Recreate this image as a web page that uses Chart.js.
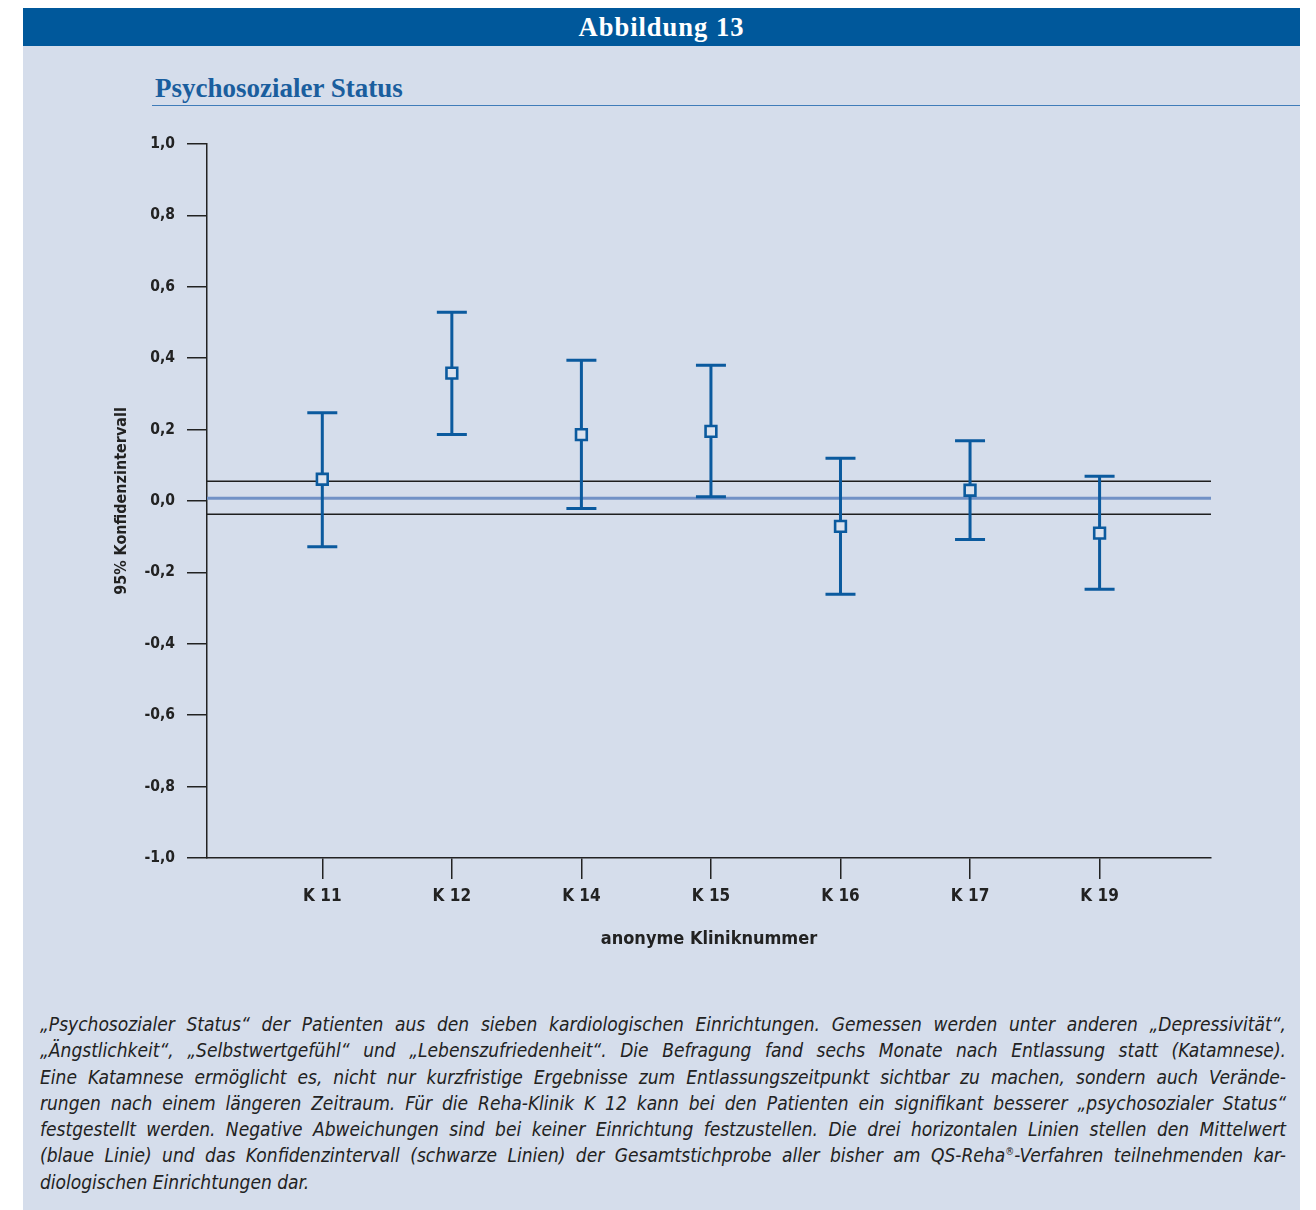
<!DOCTYPE html>
<html lang="de">
<head>
<meta charset="utf-8">
<title>Abbildung 13 - Psychosozialer Status</title>
<script src="https://cdn.jsdelivr.net/npm/chart.js@4/dist/chart.umd.min.js"></script>
<style>
  html, body { margin: 0; padding: 0; background: #fff; }
  body { width: 1316px; height: 1210px; position: relative; overflow: hidden; }
  #panel { position: absolute; left: 23px; top: 46px; width: 1277px; height: 1164px; background: #d5ddeb; }
  #header { position: absolute; left: 23px; top: 8px; width: 1277px; height: 38px; background: #00589b;
    color: #fff; font: bold 26.5px "Liberation Serif", serif; letter-spacing: 1px; text-align: center; line-height: 38px; }
  #title { position: absolute; left: 155px; top: 73px; color: #1a5e9e; font: bold 27px "Liberation Serif", serif; }
  #rule { position: absolute; left: 152px; top: 105px; width: 1148px; height: 0; border-top: 1.5px solid #3f7cb9; }
  #wrap { position: absolute; left: 100px; top: 120px; width: 1150px; height: 840px; }
  #caption { position: absolute; left: 40px; top: 1011px; width: 1246px; color: #222;
    font: italic 19px "DejaVu Sans Condensed", "Liberation Sans Narrow", sans-serif; line-height: 26.3px; }
  #caption div { text-align: justify; text-align-last: justify; white-space: nowrap; height: 26.3px; }
  #caption div.last { text-align-last: left; }
  #caption sup { font-size: 10px; line-height: 0; vertical-align: 7px; }
</style>
</head>
<body>
<div id="panel"></div>
<div id="header">Abbildung 13</div>
<div id="title">Psychosozialer Status</div>
<div id="rule"></div>
<div id="wrap"><canvas id="myChart" width="1150" height="840"></canvas></div>
<div id="caption">
  <div>„Psychosozialer Status“ der Patienten aus den sieben kardiologischen Einrichtungen. Gemessen werden unter anderen „Depressivität“,</div>
  <div>„Ängstlichkeit“, „Selbstwertgefühl“ und „Lebenszufriedenheit“. Die Befragung fand sechs Monate nach Entlassung statt (Katamnese).</div>
  <div>Eine Katamnese ermöglicht es, nicht nur kurzfristige Ergebnisse zum Entlassungszeitpunkt sichtbar zu machen, sondern auch Verände-</div>
  <div>rungen nach einem längeren Zeitraum. Für die Reha-Klinik K 12 kann bei den Patienten ein signifikant besserer „psychosozialer Status“</div>
  <div>festgestellt werden. Negative Abweichungen sind bei keiner Einrichtung festzustellen. Die drei horizontalen Linien stellen den Mittelwert</div>
  <div>(blaue Linie) und das Konfidenzintervall (schwarze Linien) der Gesamtstichprobe aller bisher am QS-Reha<sup>®</sup>-Verfahren teilnehmenden kar-</div>
  <div class="last">diologischen Einrichtungen dar.</div>
</div>
<script>
// Kliniken und 95%-Konfidenzintervalle
var categories = ['K 11', 'K 12', 'K 14', 'K 15', 'K 16', 'K 17', 'K 19'];
var means = [0.061, 0.358, 0.186, 0.195, -0.071, 0.030, -0.090];
var upper = [0.247, 0.529, 0.394, 0.380, 0.120, 0.169, 0.069];
var lower = [-0.128, 0.186, -0.021, 0.012, -0.261, -0.108, -0.247];

// Gesamtstichprobe: Mittelwert und Konfidenzintervall
var totalMean = 0.008;
var totalUpper = 0.055;
var totalLower = -0.037;

var yTickValues = [-1, -0.8, -0.6, -0.4, -0.2, 0, 0.2, 0.4, 0.6, 0.8, 1];
var yTickLabels = ['-1,0', '-0,8', '-0,6', '-0,4', '-0,2', '0,0', '0,2', '0,4', '0,6', '0,8', '1,0'];

var X_MIN = 0.11, X_MAX = 7.86;
var BLUE = '#0b5a9e';
var AXIS = '#222';
var FONT = '"DejaVu Sans Condensed", "Liberation Sans Narrow", sans-serif';

function flatLine(y) {
    return [{ x: X_MIN, y: y }, { x: X_MAX, y: y }];
}

// whiskers + caps, drawn just before the mean markers
var errorBars = {
    id: 'errorBars',
    beforeDatasetDraw: function (chart, args) {
        if (args.index !== 0) return;
        var xs = chart.scales.x, ys = chart.scales.y, ctx = chart.ctx;
        ctx.save();
        ctx.strokeStyle = BLUE;
        ctx.lineWidth = 3;
        for (var i = 0; i < categories.length; i++) {
            var px = xs.getPixelForValue(i + 1);
            var top = ys.getPixelForValue(upper[i]);
            var bot = ys.getPixelForValue(lower[i]);
            ctx.beginPath();
            ctx.moveTo(px, top); ctx.lineTo(px, bot);
            ctx.moveTo(px - 15, top); ctx.lineTo(px + 15, top);
            ctx.moveTo(px - 15, bot); ctx.lineTo(px + 15, bot);
            ctx.stroke();
        }
        ctx.restore();
    }
};

var ctx = document.getElementById('myChart').getContext('2d');
var myChart = new Chart(ctx, {
    type: 'scatter',
    data: {
        datasets: [{
            label: 'Mittelwert',
            data: means.map(function (m, i) { return { x: i + 1, y: m }; }),
            pointStyle: 'rect',
            pointRadius: 7.6,
            pointHoverRadius: 7.6,
            backgroundColor: '#dbe2ee',
            borderColor: BLUE,
            borderWidth: 2.6,
            order: 0
        }, {
            type: 'line',
            label: 'Gesamt Mittelwert',
            data: flatLine(totalMean),
            borderColor: '#7191c6',
            borderWidth: 3,
            pointRadius: 0,
            order: 1
        }, {
            type: 'line',
            label: 'KI oben',
            data: flatLine(totalUpper),
            borderColor: '#1e1e1e',
            borderWidth: 1.5,
            pointRadius: 0,
            order: 2
        }, {
            type: 'line',
            label: 'KI unten',
            data: flatLine(totalLower),
            borderColor: '#1e1e1e',
            borderWidth: 1.5,
            pointRadius: 0,
            order: 3
        }]
    },
    options: {
        responsive: false,
        animation: false,
        layout: { padding: { top: 24, right: 39, left: 0, bottom: 0 } },
        plugins: { legend: { display: false }, tooltip: { enabled: false } },
        scales: {
            x: {
                type: 'linear',
                min: X_MIN,
                max: X_MAX,
                afterBuildTicks: function (scale) {
                    scale.ticks = categories.map(function (c, i) { return { value: i + 1 }; });
                },
                afterFit: function (scale) { scale.height = 102; },
                grid: { drawOnChartArea: false, drawTicks: true, tickLength: 21, color: AXIS, lineWidth: 1.5 },
                border: { color: AXIS, width: 1.5 },
                ticks: {
                    color: AXIS,
                    padding: 7,
                    maxRotation: 0,
                    font: { family: FONT, size: 17, weight: 'bold' },
                    callback: function (v) { return categories[Math.round(v) - 1]; }
                },
                title: {
                    display: true,
                    text: 'anonyme Kliniknummer',
                    color: AXIS,
                    font: { family: FONT, size: 18, weight: 'bold' },
                    padding: { top: 0, bottom: 10 }
                }
            },
            y: {
                min: -1,
                max: 1,
                afterBuildTicks: function (scale) {
                    scale.ticks = yTickValues.map(function (v) { return { value: v }; });
                },
                afterFit: function (scale) { scale.width = 107; },
                grid: { drawOnChartArea: false, drawTicks: true, tickLength: 20, color: AXIS, lineWidth: 1.5 },
                border: { color: AXIS, width: 1.5 },
                ticks: {
                    color: AXIS,
                    padding: 12,
                    font: { family: FONT, size: 15.5, weight: 'bold' },
                    callback: function (v, i) { return yTickLabels[i]; }
                },
                title: {
                    display: true,
                    text: '95% Konfidenzintervall',
                    color: AXIS,
                    font: { family: FONT, size: 16, weight: 'bold' },
                    padding: { top: 12, bottom: 0 }
                }
            }
        }
    },
    plugins: [errorBars]
});
</script>
</body>
</html>
